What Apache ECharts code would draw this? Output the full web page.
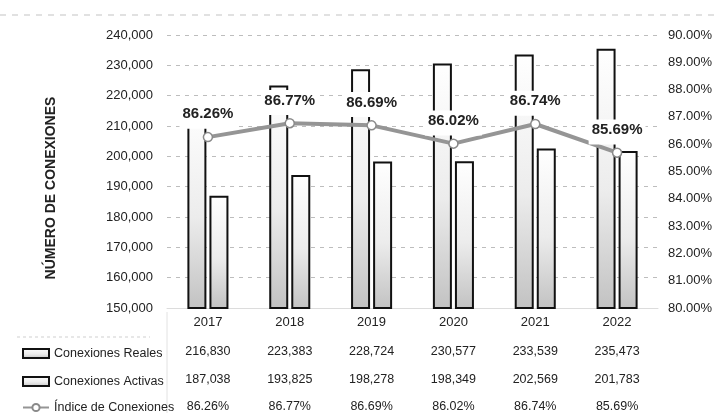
<!DOCTYPE html>
<html>
<head>
<meta charset="utf-8">
<script src="https://cdn.jsdelivr.net/npm/echarts@6/dist/echarts.min.js"></script>
<style>
html,body{margin:0;padding:0;background:#fff;}
#chart{width:719px;height:413px;}
</style>
</head>
<body>
<div id="chart"></div>
<script>
var years = ['2017','2018','2019','2020','2021','2022'];
var conexionesReales = [216830, 223383, 228724, 230577, 233539, 235473];
var conexionesActivas = [187038, 193825, 198278, 198349, 202569, 201783];
var indiceConexiones = [86.26, 86.77, 86.69, 86.02, 86.74, 85.69];
var seriesNames = ['Conexiones Reales', 'Conexiones Activas', 'Índice de Conexiones'];
var yTitle = 'NÚMERO DE CONEXIONES';

var FONT = '"Liberation Sans", Arial, sans-serif';
function fmtNum(v){ return Number(v).toLocaleString('en-US'); }
function fmtPct(v){ return Number(v).toFixed(2) + '%'; }

var chart = echarts.init(document.getElementById('chart'), null, {renderer:'canvas'});

function barGrad(){
  return new echarts.graphic.LinearGradient(0,0,0,1,[
    {offset:0,color:'#ffffff'},{offset:0.55,color:'#ececec'},{offset:1,color:'#c2c2c2'}
  ]);
}

function tableAxis(values, offset){
  return {
    type:'category', gridIndex:0, position:'bottom', offset:offset,
    data: values,
    axisLine:{show:false}, axisTick:{show:false}, splitLine:{show:false},
    axisLabel:{color:'#222', fontSize:12.5, fontFamily:FONT, margin:8, interval:0}
  };
}

function legendRow(name, top, icon){
  var item = {name:name};
  if (icon) item.icon = icon;
  return {
    orient:'horizontal', left:17, top:top,
    itemWidth:26, itemHeight:9, itemGap:5,
    textStyle:{color:'#222', fontSize:12.5, fontFamily:FONT},
    selectedMode:false,
    data:[item]
  };
}

var option = {
  backgroundColor:'#fff',
  animation:false,
  grid:{left:167, right:61, top:35, bottom:103},
  legend:[
    legendRow(seriesNames[0], 342, 'rect'),
    legendRow(seriesNames[1], 370, 'rect'),
    legendRow(seriesNames[2], 396, null)
  ],
  xAxis:[
    {
      type:'category', data:years,
      axisLine:{show:true, lineStyle:{color:'#dcdcdc', width:1}},
      axisTick:{show:false},
      axisLabel:{color:'#222', fontSize:13, fontFamily:FONT, margin:8}
    },
    tableAxis(conexionesReales.map(fmtNum), 29),
    tableAxis(conexionesActivas.map(fmtNum), 57),
    tableAxis(indiceConexiones.map(fmtPct), 84)
  ],
  yAxis:[
    {
      type:'value', min:150000, max:240000, interval:10000,
      axisLine:{show:false}, axisTick:{show:false},
      axisLabel:{color:'#222', fontSize:13, fontFamily:FONT, margin:14, formatter:fmtNum},
      splitLine:{show:true, lineStyle:{color:'#bdbdbd', type:[4,5], width:1}}
    },
    {
      type:'value', min:80, max:90, interval:1, position:'right',
      axisLine:{show:false}, axisTick:{show:false},
      axisLabel:{color:'#222', fontSize:13, fontFamily:FONT, margin:10, formatter:fmtPct},
      splitLine:{show:false}
    }
  ],
  series:[
    {
      name:seriesNames[0], type:'bar', data:conexionesReales,
      barWidth:19, barGap:'16%',
      itemStyle:{color:barGrad(), borderColor:'#111', borderWidth:2}
    },
    {
      name:seriesNames[1], type:'bar', data:conexionesActivas,
      barWidth:19,
      itemStyle:{color:barGrad(), borderColor:'#111', borderWidth:2}
    },
    {
      name:seriesNames[2], type:'line', yAxisIndex:1, data:indiceConexiones,
      z:5,
      lineStyle:{color:'#959595', width:4},
      itemStyle:{color:'#ffffff', borderColor:'#8a8a8a', borderWidth:1.5},
      symbol:'circle', symbolSize:9, showAllSymbol:true,
      label:{
        show:true, position:'top', distance:3,
        formatter:function(p){ return fmtPct(p.value); },
        color:'#222', fontSize:15, fontWeight:'bold', fontFamily:FONT,
        backgroundColor:'#ffffff', padding:[3,3,7,3]
      }
    }
  ],
  graphic:[
    {
      type:'text', x:51, y:188, rotation:Math.PI/2,
      style:{text:yTitle, fill:'#222', font:'bold 14px ' + FONT, align:'center', verticalAlign:'middle'}
    },
    {
      type:'line', shape:{x1:0,y1:15,x2:719,y2:15},
      style:{stroke:'#c4c4c4', lineWidth:1, lineDash:[6,6]}
    },
    {
      type:'line', shape:{x1:17,y1:337,x2:150,y2:337},
      style:{stroke:'#cfcfcf', lineWidth:1, lineDash:[3,3]}
    },
    {
      type:'line', shape:{x1:167,y1:312,x2:167,y2:413},
      style:{stroke:'#e2e2e2', lineWidth:1}
    }
  ]
};
chart.setOption(option);
</script>
</body>
</html>
